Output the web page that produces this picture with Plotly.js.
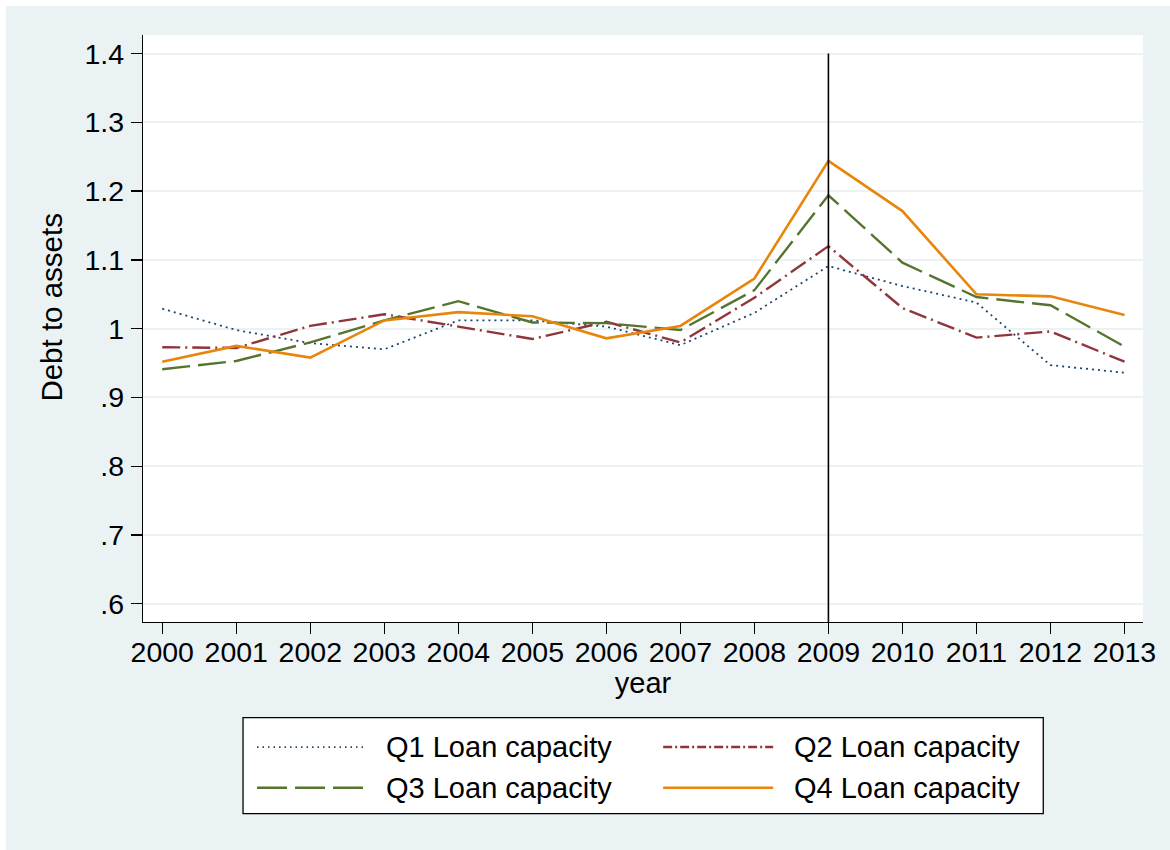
<!DOCTYPE html>
<html>
<head>
<meta charset="utf-8">
<script src="https://cdn.plot.ly/plotly-3.0.1.min.js"></script>
<style>
  html, body { margin: 0; padding: 0; background: #ffffff; }
  #chart { position: absolute; left: 6px; top: 6px; width: 1164px; height: 844px; }
</style>
</head>
<body>
<div id="chart"></div>
<script>
// ---- data ----
const years = [2000, 2001, 2002, 2003, 2004, 2005, 2006, 2007, 2008, 2009, 2010, 2011, 2012, 2013];
const q1 = [1.029, 0.998, 0.979, 0.970, 1.012, 1.012, 1.003, 0.976, 1.023, 1.091, 1.062, 1.038, 0.947, 0.936];
const q2 = [0.973, 0.972, 1.004, 1.021, 1.003, 0.985, 1.010, 0.980, 1.045, 1.120, 1.030, 0.987, 0.996, 0.952];
const q3 = [0.941, 0.953, 0.980, 1.012, 1.040, 1.009, 1.008, 0.998, 1.056, 1.194, 1.096, 1.046, 1.034, 0.974];
const q4 = [0.952, 0.975, 0.958, 1.012, 1.024, 1.018, 0.986, 1.004, 1.073, 1.244, 1.171, 1.050, 1.047, 1.020];
const seriesNames = ["Q1 Loan capacity", "Q2 Loan capacity", "Q3 Loan capacity", "Q4 Loan capacity"];
const yTickVals = [0.6, 0.7, 0.8, 0.9, 1.0, 1.1, 1.2, 1.3, 1.4];
const yTickText = [".6", ".7", ".8", ".9", "1", "1.1", "1.2", "1.3", "1.4"];
const xTitle = "year";
const yTitle = "Debt to assets";
const eventYear = 2009;

// ---- styles ----
const FONT = '"Liberation Sans", Arial, Helvetica, sans-serif';
const BG = '#EAF2F3';
const colors = ['#1A476F', '#90353B', '#55752F', '#E8850A'];
const dashes = ['2px,4px', '18px,5px,2px,5px', '28px,8px', 'solid'];
const legendDashes = ['1.5px,4px', '9px,3px,2px,3px', '30px,8px', 'solid'];
const widths = [1.8, 2.4, 2.4, 2.6];
const seriesData = [q1, q2, q3, q4];

const traces = seriesData.map((ys, i) => ({
  x: years, y: ys, type: 'scatter', mode: 'lines', name: seriesNames[i],
  line: { color: colors[i], width: widths[i], dash: dashes[i] },
  showlegend: false, hoverinfo: 'x+y+name'
}));

// plot box in page pixels (for custom legend / title placement)
const PX0 = 143, PX1 = 1142.7, PY0 = 35, PY1 = 621.7;
const px = v => (v - PX0) / (PX1 - PX0);
const py = v => (PY1 - v) / (PY1 - PY0);
const yRange = [0.5735, 1.427];

const shapes = [
  { type: 'line', xref: 'x', yref: 'y', x0: eventYear, x1: eventYear, y0: yRange[0], y1: yTickVals[yTickVals.length - 1],
    line: { color: '#000000', width: 1.6 } },
  // legend box
  { type: 'rect', xref: 'paper', yref: 'paper', x0: px(243), x1: px(1043), y0: py(813.3), y1: py(717.3),
    fillcolor: '#ffffff', line: { color: '#000000', width: 1.3 } }
];
const annotations = [
  { xref: 'paper', yref: 'paper', x: px(52), y: py(306.5), xanchor: 'center', yanchor: 'middle',
    textangle: -90, showarrow: false, text: yTitle,
    font: { family: FONT, size: 29.5, color: '#000000' } }
];
const rowsY = [746.7, 746.7, 787.3, 787.3];
const lineX0 = [257, 663, 257, 663];
const lineX1 = [365, 773, 365, 773];
const textX = [384, 792, 384, 792];
for (let i = 0; i < 4; i++) {
  shapes.push({ type: 'line', xref: 'paper', yref: 'paper', x0: px(lineX0[i]), x1: px(lineX1[i]),
    y0: py(rowsY[i]), y1: py(rowsY[i]),
    line: { color: colors[i], width: widths[i], dash: legendDashes[i] } });
  annotations.push({ xref: 'paper', yref: 'paper', x: px(textX[i]), y: py(rowsY[i]),
    xanchor: 'left', yanchor: 'middle', showarrow: false, text: seriesNames[i],
    font: { family: FONT, size: 29, color: '#000000' } });
}

const layout = {
  width: 1164, height: 844,
  paper_bgcolor: BG, plot_bgcolor: '#ffffff',
  margin: { l: 137, r: 27, t: 29, b: 228 },
  font: { family: FONT, size: 28.5, color: '#000000' },
  showlegend: false,
  xaxis: {
    range: [1999.74, 2013.25], tickmode: 'array', tickvals: years, ticktext: years.map(String),
    ticks: 'outside', ticklen: 11, tickwidth: 1.3, tickcolor: '#000000', ticklabelstandoff: -7,
    showline: true, linecolor: '#000000', linewidth: 1.3, mirror: false,
    showgrid: false, zeroline: false,
    tickfont: { family: FONT, size: 28.5, color: '#000000' },
    title: { text: xTitle, font: { family: FONT, size: 29, color: '#000000' }, standoff: 4 }
  },
  yaxis: {
    range: yRange, tickmode: 'array', tickvals: yTickVals, ticktext: yTickText,
    ticks: 'outside', ticklen: 11, tickwidth: 1.3, tickcolor: '#000000', ticklabelstandoff: 1,
    showline: true, linecolor: '#000000', linewidth: 1.3, mirror: false,
    showgrid: true, gridcolor: BG, gridwidth: 2, zeroline: false,
    tickfont: { family: FONT, size: 28.5, color: '#000000' }
  },
  shapes: shapes,
  annotations: annotations
};

Plotly.newPlot('chart', traces, layout, { displayModeBar: false, staticPlot: true });
</script>
</body>
</html>
